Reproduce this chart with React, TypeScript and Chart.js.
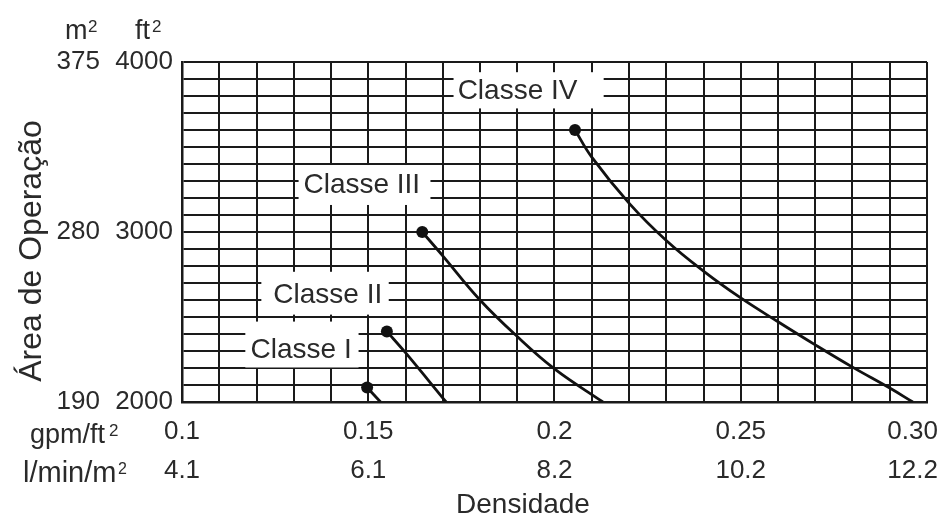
import React, { useEffect, useRef } from 'react';
import { Chart, registerables } from 'chart.js';

Chart.register(...registerables);

// ---- axis ticks / labels ----
const densityTickValues = [0.1, 0.15, 0.2, 0.25, 0.3];
const densityLabelsGpm = ['0.1', '0.15', '0.2', '0.25', '0.30    '];
const densityLabelsMetric = ['4.1', '6.1', '8.2', '10.2', '12.2    '];
const areaTickValuesFt2 = [2000, 3000, 4000];
const areaLabelsFt2 = ['2000', '3000', '4000'];
const areaLabelsM2 = ['190', '280', '375'];

// ---- series (density gpm/ft², area ft²) ----
const classNames = ['Classe I', 'Classe II', 'Classe III', 'Classe IV'];
const classeIDensity = [0.1497, 0.1533];
const classeIArea = [2085, 2000];
const classeIIDensity = [0.155, 0.16, 0.1709];
const classeIIArea = [2415, 2290, 2000];
const classeIIIDensity = [0.1645, 0.17, 0.18, 0.19, 0.2, 0.213];
const classeIIIArea = [3000, 2860, 2600, 2385, 2195, 2000];
const classeIVDensity = [0.2055, 0.21, 0.22, 0.23, 0.24, 0.25, 0.26, 0.27, 0.28, 0.29, 0.2962];
const classeIVArea = [3600, 3440, 3170, 2950, 2770, 2612, 2472, 2336, 2205, 2082, 2000];

// label boxes, in data units (x0,x1 density; y0,y1 area; text anchor tx,ty)
const labelBoxes = [
  { x0: 0.117, x1: 0.1474, y0: 2203, y1: 2473, tx: 0.1184, ty: 2303 },
  { x0: 0.1213, x1: 0.1555, y0: 2514, y1: 2766, tx: 0.1245, ty: 2626 },
  { x0: 0.1313, x1: 0.1667, y0: 3159, y1: 3394, tx: 0.1326, ty: 3277 },
  { x0: 0.1729, x1: 0.2132, y0: 3727, y1: 3940, tx: 0.174, ty: 3828 },
];

const FONT = "'Liberation Sans', Arial, Helvetica, sans-serif";
const TEXT = '#2a2a2a';
const GRID = '#1a1a1a';
const LINE = '#111111';

const toPoints = (xs: number[], ys: number[]) => xs.map((v, i) => ({ x: v, y: ys[i] }));

const overlayPlugin = {
  id: 'overlay',
  beforeDatasetsDraw(chart: any) {
    const { ctx, scales } = chart;
    const x = scales.x;
    const y = scales.y;
    ctx.save();
    labelBoxes.forEach((b, i) => {
      const px0 = x.getPixelForValue(b.x0);
      const px1 = x.getPixelForValue(b.x1);
      const py0 = y.getPixelForValue(b.y1);
      const py1 = y.getPixelForValue(b.y0);
      ctx.fillStyle = '#ffffff';
      ctx.fillRect(px0, py0, px1 - px0, py1 - py0);
      ctx.fillStyle = TEXT;
      ctx.font = `28px ${FONT}`;
      ctx.textAlign = 'left';
      ctx.textBaseline = 'middle';
      ctx.fillText(classNames[i], x.getPixelForValue(b.tx), y.getPixelForValue(b.ty));
    });
    ctx.restore();
  },
  afterDraw(chart: any) {
    const { ctx } = chart;
    ctx.save();
    ctx.fillStyle = TEXT;
    ctx.textBaseline = 'alphabetic';
    ctx.textAlign = 'left';
    // unit headers
    ctx.font = `27px ${FONT}`;
    ctx.fillText('m', 65, 39);
    ctx.fillText('ft', 135, 39);
    ctx.font = `17px ${FONT}`;
    ctx.fillText('2', 88, 32);
    ctx.fillText('2', 152, 32);
    // row labels for the density axis
    ctx.font = `27px ${FONT}`;
    ctx.fillText('gpm/ft', 30, 443);
    ctx.font = `17px ${FONT}`;
    ctx.fillText('2', 109, 436);
    ctx.font = `29px ${FONT}`;
    ctx.fillText('l/min/m', 23, 482);
    ctx.font = `16px ${FONT}`;
    ctx.fillText('2', 118, 474);
    // x title
    ctx.textAlign = 'center';
    ctx.textBaseline = 'middle';
    ctx.font = `28px ${FONT}`;
    ctx.fillText('Densidade', 523, 505);
    // y title
    ctx.translate(32, 251);
    ctx.rotate(-Math.PI / 2);
    ctx.font = `32px ${FONT}`;
    ctx.fillText('Área de Operação', 0, 0);
    ctx.restore();
  },
};

export default function App() {
  const ref = useRef<HTMLCanvasElement | null>(null);

  useEffect(() => {
    if (!ref.current) return;
    const series = [
      [classeIDensity, classeIArea],
      [classeIIDensity, classeIIArea],
      [classeIIIDensity, classeIIIArea],
      [classeIVDensity, classeIVArea],
    ];
    const chart = new Chart(ref.current, {
      type: 'line',
      data: {
        datasets: series.map(([xs, ys], i) => ({
          label: classNames[i],
          data: toPoints(xs, ys),
          borderColor: LINE,
          backgroundColor: LINE,
          borderWidth: 2.8,
          tension: 0.4,
          pointRadius: (c: any) => (c.dataIndex === 0 ? 6 : 0),
          pointHoverRadius: 0,
          pointBackgroundColor: LINE,
          pointBorderWidth: 0,
          fill: false,
        })),
      },
      options: {
        animation: false,
        responsive: true,
        maintainAspectRatio: false,
        layout: { padding: { left: 0, top: 62, right: 20, bottom: 0 } },
        plugins: { legend: { display: false }, tooltip: { enabled: false } },
        scales: {
          x: {
            type: 'linear',
            min: 0.1,
            max: 0.3,
            afterFit: (s: any) => {
              s.height = 120;
              s.paddingRight = 0;
              s.paddingLeft = 0;
            },
            grid: { color: GRID, lineWidth: 2, drawTicks: false },
            border: { color: GRID, width: 2.5 },
            ticks: {
              stepSize: 0.01,
              maxTicksLimit: 40,
              autoSkip: false,
              maxRotation: 0,
              minRotation: 0,
              padding: 10,
              color: TEXT,
              font: { family: FONT, size: 26, lineHeight: 1.5 },
              callback: (v: any) => {
                const i = densityTickValues.findIndex((t) => Math.abs(t - Number(v)) < 1e-9);
                return i < 0 ? '' : [densityLabelsGpm[i], densityLabelsMetric[i]];
              },
            },
          },
          y: {
            type: 'linear',
            position: 'left',
            weight: 0,
            min: 2000,
            max: 4000,
            afterFit: (s: any) => {
              s.width = 77;
            },
            grid: { color: GRID, lineWidth: 2, drawTicks: false },
            border: { color: GRID, width: 2.5 },
            ticks: {
              stepSize: 100,
              maxTicksLimit: 40,
              autoSkip: false,
              padding: 9,
              color: TEXT,
              font: { family: FONT, size: 26 },
              callback: (v: any) => {
                const i = areaTickValuesFt2.indexOf(Number(v));
                return i < 0 ? '' : areaLabelsFt2[i];
              },
            },
          },
          m2: {
            type: 'linear',
            position: 'left',
            weight: 1,
            min: 2000,
            max: 4000,
            afterFit: (s: any) => {
              s.width = 105;
            },
            grid: { display: false, drawTicks: false },
            border: { display: false },
            ticks: {
              stepSize: 1000,
              autoSkip: false,
              padding: 5,
              color: TEXT,
              font: { family: FONT, size: 26 },
              callback: (v: any) => {
                const i = areaTickValuesFt2.indexOf(Number(v));
                return i < 0 ? '' : areaLabelsM2[i];
              },
            },
          },
        },
      },
      plugins: [overlayPlugin],
    } as any);
    return () => chart.destroy();
  }, []);

  return (
    <div style={{ position: 'absolute', left: 0, top: 0, width: 947, height: 522, background: '#fff' }}>
      <canvas ref={ref} />
    </div>
  );
}
